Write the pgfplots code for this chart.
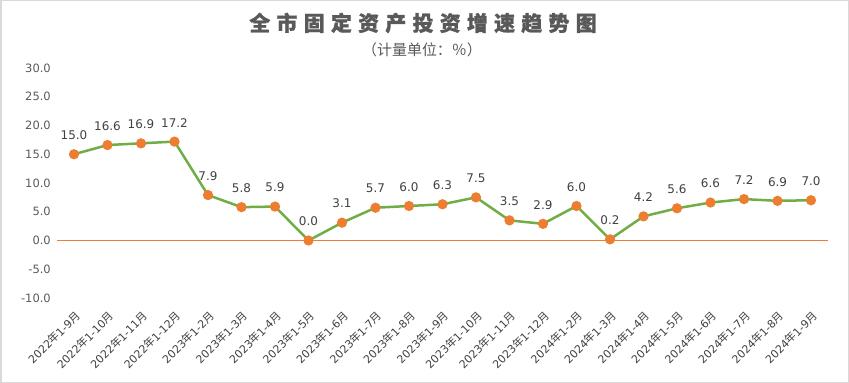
\documentclass[border=0pt]{standalone}
\usepackage{fontspec}
\usepackage{pgfplots}
\pgfplotsset{compat=1.18}
\setmainfont{DejaVu Sans}
\newfontfamily\cjk{Noto Sans CJK SC}
\newcommand{\ym}[2]{#1{\cjk 年}#2{\cjk 月}}
\definecolor{lgreen}{HTML}{70AD47}
\definecolor{lorange}{HTML}{ED7D31}
\definecolor{tgray}{HTML}{595959}
\definecolor{dgray}{HTML}{404040}
\definecolor{framec}{HTML}{D9D9D9}
\begin{document}
\begin{tikzpicture}
\path (0,0) rectangle (849bp,383bp);
\draw[framec, line width=1.5bp] (0.75bp,0.75bp) rectangle (848.25bp,382.25bp);
\node[tgray] at (423bp,360bp) {\cjk\bfseries\fontsize{21}{24}\selectfont\addfontfeatures{LetterSpace=30,FakeBold=1}全市固定资产投资增速趋势图};
\node[tgray] at (422bp,333bp) {\cjk\fontsize{15}{17}\selectfont （计量单位：％）};
\begin{axis}[
  at={(57.25bp,85bp)}, anchor=south west,
  scale only axis, width=770.5bp, height=230bp,
  xmin=-0.5, xmax=22.5, ymin=-10, ymax=30,
  ytick={-10,-5,...,30},
  xtick={0,...,22},
  xticklabels={\ym{2022}{1-9},\ym{2022}{1-10},\ym{2022}{1-11},\ym{2022}{1-12},\ym{2023}{1-2},\ym{2023}{1-3},\ym{2023}{1-4},\ym{2023}{1-5},\ym{2023}{1-6},\ym{2023}{1-7},\ym{2023}{1-8},\ym{2023}{1-9},\ym{2023}{1-10},\ym{2023}{1-11},\ym{2023}{1-12},\ym{2024}{1-2},\ym{2024}{1-3},\ym{2024}{1-4},\ym{2024}{1-5},\ym{2024}{1-6},\ym{2024}{1-7},\ym{2024}{1-8},\ym{2024}{1-9}},
  axis line style={draw=none},
  major tick length=0pt,
  /pgf/number format/assume math mode=true,
  yticklabel={\pgfmathprintnumber[fixed,fixed zerofill,precision=1]{\tick}},
  yticklabel style={font=\fontsize{11.5}{13}\selectfont, text=tgray, xshift=-3bp},
  xticklabel style={xshift=5bp, yshift=-15bp, rotate=45, anchor=east, inner sep=1bp, font=\fontsize{11}{13}\selectfont, text=dgray},
  clip=false,
]
\addplot[lorange, line width=0.8bp, forget plot] coordinates {(-0.5,0) (22.5,0)};
\addplot[lgreen, line width=2.5bp, mark=*, mark size=3.8bp, mark options={fill=lorange, draw=lorange},
  nodes near coords={\pgfmathprintnumber[fixed,fixed zerofill,precision=1]{\pgfplotspointmeta}},
  every node near coord/.append style={font=\fontsize{12}{14}\selectfont, text=dgray, anchor=south, yshift=10bp}]
coordinates {(0,15.0) (1,16.6) (2,16.9) (3,17.2) (4,7.9) (5,5.8) (6,5.9) (7,0.0) (8,3.1) (9,5.7) (10,6.0) (11,6.3) (12,7.5) (13,3.5) (14,2.9) (15,6.0) (16,0.2) (17,4.2) (18,5.6) (19,6.6) (20,7.2) (21,6.9) (22,7.0)};
\end{axis}
\end{tikzpicture}
\end{document}
